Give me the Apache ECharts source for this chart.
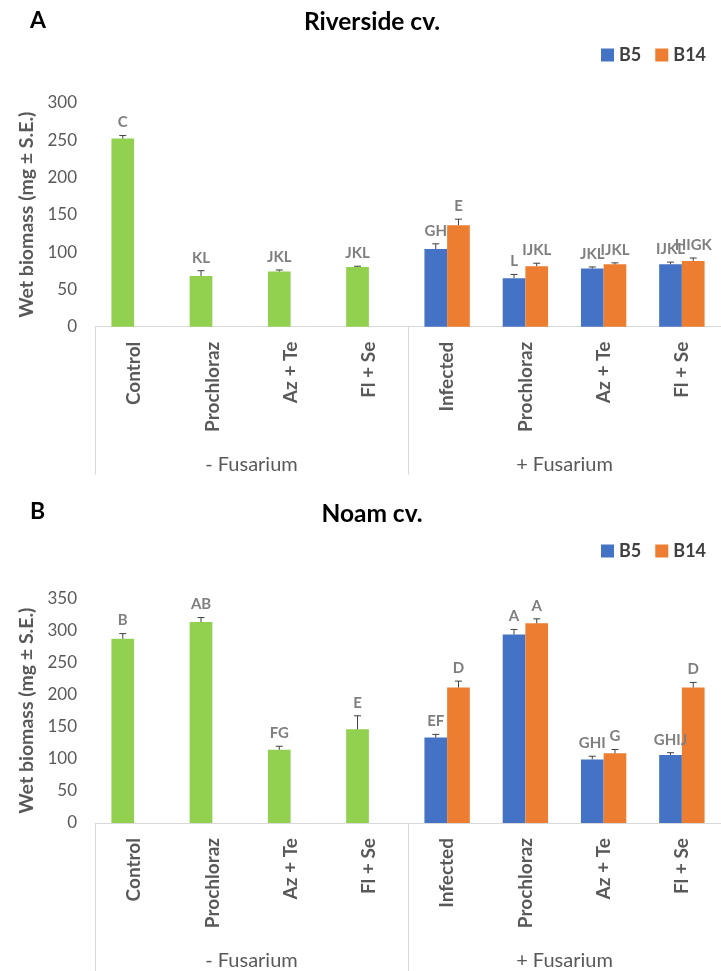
<!DOCTYPE html>
<html>
<head>
<meta charset="utf-8">
<script src="https://cdn.jsdelivr.net/npm/echarts@6/dist/echarts.min.js"></script>
<style>
html,body{margin:0;padding:0;background:#fff;}
#chart{width:721px;height:971px;}
</style>
</head>
<body>
<div id="chart"></div>
<script>
// ---- data ----
const categories = ['Control', 'Prochloraz', 'Az + Te', 'Fl + Se', 'Infected', 'Prochloraz', 'Az + Te', 'Fl + Se'];
const categoryGroup = [0, 0, 0, 0, 1, 1, 1, 1];
const groups = ['- Fusarium', '+ Fusarium'];
const seriesNames = ['B5', 'B14'];

const panelLetters = ['A', 'B'];
const panelTitles = ['Riverside cv.', 'Noam cv.'];
const yAxisTitle = 'Wet biomass (mg \u00b1 S.E.)';
const yMaxA = 300, yMaxB = 350, yStep = 50;

// Riverside cv.
const riversideB5 = [252, 68, 74, 80, 104, 65, 78, 83.5];
const riversideB5Err = [4, 7, 2, 1, 7, 5, 2, 3];
const riversideB5Letters = ['C', 'KL', 'JKL', 'JKL', 'GH', 'L', 'JKL', 'IJKL'];
const riversideB14 = [null, null, null, null, 136, 81, 83.5, 88];
const riversideB14Err = [null, null, null, null, 8, 4, 2, 4];
const riversideB14Letters = ['', '', '', '', 'E', 'IJKL', 'IJKL', 'HIGK'];

// Noam cv.
const noamB5 = [287, 313, 114, 146, 133, 293.5, 99, 106];
const noamB5Err = [8, 7, 5.5, 21, 5, 8, 5, 3.5];
const noamB5Letters = ['B', 'AB', 'FG', 'E', 'EF', 'A', 'GHI', 'GHIJ'];
const noamB14 = [null, null, null, null, 211, 311, 108.5, 211];
const noamB14Err = [null, null, null, null, 10, 7, 6, 8];
const noamB14Letters = ['', '', '', '', 'D', 'A', 'G', 'D'];

// ---- styles ----
const FONT = 'Lato, "Open Sans", sans-serif';
const colGreen = '#92D050', colBlue = '#4472C4', colOrange = '#ED7D31';
const axisGrey = '#d9d9d9', textGrey = '#595959', labelGrey = '#7f7f7f', errColor = '#404040';
const BAR_FRAC = 0.29;

const chart = echarts.init(document.getElementById('chart'), null, {renderer: 'canvas'});

function errRenderer(sign, letters) {
  return function (params, api) {
    const v = api.value(1);
    if (v == null || isNaN(v)) return;
    const e = api.value(2);
    const idx = api.value(0);
    const band = api.size([1, 0])[0];
    const x = api.coord([idx, 0])[0] + sign * band * BAR_FRAC / 2;
    const yTop = api.coord([idx, v])[1];
    const yCap = api.coord([idx, v + e])[1];
    const half = 3.5;
    return {
      type: 'group',
      children: [
        {type: 'line', shape: {x1: x, y1: yTop, x2: x, y2: yCap}, style: {stroke: errColor, lineWidth: 1}},
        {type: 'line', shape: {x1: x - half, y1: yCap, x2: x + half, y2: yCap}, style: {stroke: errColor, lineWidth: 1}},
        {type: 'text', x: x, y: yCap - 13, style: {text: letters[params.dataIndex], textAlign: 'center', textVerticalAlign: 'middle', fill: labelGrey, font: 'bold 15px ' + FONT}}
      ]
    };
  };
}

function panelSeries(gi, b5, b5Err, b5L, b14, b14Err, b14L) {
  const b5Data = b5.map((v, i) => ({value: v, itemStyle: {color: categoryGroup[i] === 0 ? colGreen : colBlue}}));
  return [
    {name: seriesNames[0], type: 'bar', xAxisIndex: gi * 2, yAxisIndex: gi, data: b5Data, barWidth: (BAR_FRAC * 100) + '%', barGap: '0%', itemStyle: {color: colBlue}},
    {name: seriesNames[1], type: 'bar', xAxisIndex: gi * 2, yAxisIndex: gi, data: b14, barWidth: (BAR_FRAC * 100) + '%', barGap: '0%', itemStyle: {color: colOrange}},
    {name: 'errB5_' + gi, type: 'custom', xAxisIndex: gi * 2, yAxisIndex: gi, z: 5,
      data: b5.map((v, i) => [i, v, b5Err[i]]), encode: {x: 0, y: 1}, renderItem: errRenderer(-1, b5L), silent: true},
    {name: 'errB14_' + gi, type: 'custom', xAxisIndex: gi * 2, yAxisIndex: gi, z: 5,
      data: b14.map((v, i) => [i, v, b14Err[i]]), encode: {x: 0, y: 1}, renderItem: errRenderer(1, b14L), silent: true}
  ];
}

function xAxes(gi) {
  return [
    {gridIndex: gi, type: 'category', data: categories, position: 'bottom',
      axisLine: {show: true, lineStyle: {color: axisGrey, width: 1}}, axisTick: {show: false},
      axisLabel: {rotate: 90, margin: 15, color: textGrey, fontWeight: 'bold', fontSize: 19, fontFamily: FONT, interval: 0}},
    {gridIndex: gi, type: 'category', data: groups, position: 'bottom',
      axisLine: {show: false}, axisTick: {show: true, length: gi === 0 ? 148 : 150, lineStyle: {color: axisGrey, width: 1}},
      axisLabel: {margin: 128, color: textGrey, fontSize: 20, fontFamily: FONT, interval: 0}}
  ];
}

function yAxis(gi, max) {
  return {gridIndex: gi, type: 'value', min: 0, max: max, interval: yStep,
    axisLine: {show: false}, axisTick: {show: false}, splitLine: {show: false},
    axisLabel: {margin: 18, color: textGrey, fontSize: 17, fontFamily: FONT},
    name: yAxisTitle, nameLocation: 'middle', nameGap: 58,
    nameTextStyle: {color: textGrey, fontWeight: 'bold', fontSize: 19.5, fontFamily: FONT}};
}

function legend(top) {
  return {data: seriesNames, left: 601, top: top, padding: 0, icon: 'rect', itemWidth: 13, itemHeight: 13, itemGap: 14,
    textStyle: {color: '#404040', fontWeight: 'bold', fontSize: 18, fontFamily: FONT}};
}

const option = {
  animation: false,
  backgroundColor: '#fff',
  title: [
    {text: panelLetters[0], left: 30, top: 9, padding: 0, textStyle: {color: '#000', fontWeight: 'bold', fontSize: 23, fontFamily: FONT}},
    {text: panelTitles[0], left: 372, top: 10, padding: 0, textAlign: 'center', textStyle: {color: '#000', fontWeight: 'bold', fontSize: 24.5, fontFamily: FONT}},
    {text: panelLetters[1], left: 30, top: 500, padding: 0, textStyle: {color: '#000', fontWeight: 'bold', fontSize: 23, fontFamily: FONT}},
    {text: panelTitles[1], left: 372, top: 502, padding: 0, textAlign: 'center', textStyle: {color: '#000', fontWeight: 'bold', fontSize: 24.5, fontFamily: FONT}}
  ],
  legend: [legend(46), legend(542)],
  grid: [
    {left: 95, top: 102.7, width: 636, height: 224},
    {left: 95, top: 598.3, width: 636, height: 226}
  ],
  xAxis: [...xAxes(0), ...xAxes(1)],
  yAxis: [yAxis(0, yMaxA), yAxis(1, yMaxB)],
  series: [
    ...panelSeries(0, riversideB5, riversideB5Err, riversideB5Letters, riversideB14, riversideB14Err, riversideB14Letters),
    ...panelSeries(1, noamB5, noamB5Err, noamB5Letters, noamB14, noamB14Err, noamB14Letters)
  ]
};
chart.setOption(option);
</script>
</body>
</html>
